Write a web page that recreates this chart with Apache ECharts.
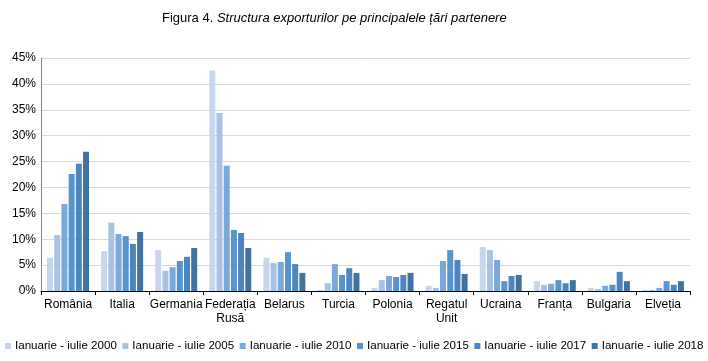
<!DOCTYPE html>
<html><head><meta charset="utf-8">
<script src="https://cdn.jsdelivr.net/npm/echarts@6/dist/echarts.min.js"></script>
<style>html,body{margin:0;padding:0;background:#fff}#c{width:708px;height:361px}</style>
</head><body><div id="c"></div>
<script>
const categories = ['România','Italia','Germania','Federația\nRusă','Belarus','Turcia','Polonia','Regatul\nUnit','Ucraina','Franța','Bulgaria','Elveția'];
const seriesNames = ['Ianuarie - iulie 2000','Ianuarie - iulie 2005','Ianuarie - iulie 2010','Ianuarie - iulie 2015','Ianuarie - iulie 2017','Ianuarie - iulie 2018'];
const s2000 = [6.4, 7.7, 7.9, 42.6, 6.4, 0.2, 0.6, 1.0, 8.5, 1.9, 0.6, 0.2];
const s2005 = [10.8, 13.2, 3.9, 34.4, 5.4, 1.5, 2.1, 0.6, 7.9, 1.2, 0.4, 0.2];
const s2010 = [16.8, 11.0, 4.6, 24.2, 5.6, 5.2, 2.9, 5.8, 6.0, 1.4, 1.0, 0.6];
const s2015 = [22.6, 10.6, 5.8, 11.8, 7.5, 3.1, 2.7, 7.9, 1.9, 2.1, 1.2, 1.9];
const s2017 = [24.6, 9.1, 6.6, 11.2, 5.2, 4.4, 3.1, 6.0, 2.9, 1.5, 3.7, 1.2];
const s2018 = [26.9, 11.4, 8.3, 8.3, 3.5, 3.5, 3.5, 3.3, 3.1, 2.1, 1.9, 1.9];
const yTicks = [0,5,10,15,20,25,30,35,40,45];
const colors = ['#c6d6ec','#a7c2e4','#7ba8da','#5694cc','#4d86bd','#4272a0'];
const allData = [s2000,s2005,s2010,s2015,s2017,s2018];
const font = 'Liberation Sans, Arial, sans-serif';
const chart = echarts.init(document.getElementById('c'), null, {renderer:'canvas'});
chart.setOption({
  animation:false,
  color: colors,
  title:{
    text:'{n|Figura 4. }{i|Structura exporturilor pe principalele țări partenere}',
    left:157, top:7,
    textStyle:{fontWeight:'normal',rich:{
      n:{fontFamily:font,fontSize:13,color:'#000',fontWeight:'normal'},
      i:{fontFamily:font,fontSize:13,color:'#000',fontStyle:'italic',fontWeight:'normal'}
    }}
  },
  legend:{
    bottom:9, left:5, width:703, padding:0,
    itemWidth:6, itemHeight:6, itemGap:5.5,
    icon:'rect',
    textStyle:{fontFamily:font,fontSize:11.6,color:'#000',padding:[0,0,0,-1]},
    data: seriesNames
  },
  grid:{left:41,right:18,top:58,bottom:70},
  xAxis:{
    type:'category', data:categories,
    axisLine:{lineStyle:{color:'#000',width:1}},
    axisTick:{show:true,length:4,lineStyle:{color:'#000'}},
    axisLabel:{fontFamily:font,fontSize:12,color:'#000',margin:7,lineHeight:14,interval:0}
  },
  yAxis:{
    type:'value', min:0, max:45, interval:5,
    axisLine:{show:true,lineStyle:{color:'#888'}},
    axisTick:{show:false},
    splitLine:{lineStyle:{color:'#d9d9d9',width:1}},
    axisLabel:{fontFamily:font,fontSize:12,color:'#000',margin:5,formatter:v=>yTicks.includes(v)?v+'%':''}
  },
  series: allData.map((d,i)=>({
    name:seriesNames[i], type:'bar', data:d,
    barWidth:6, barGap:'20%'
  }))
});
</script></body></html>
